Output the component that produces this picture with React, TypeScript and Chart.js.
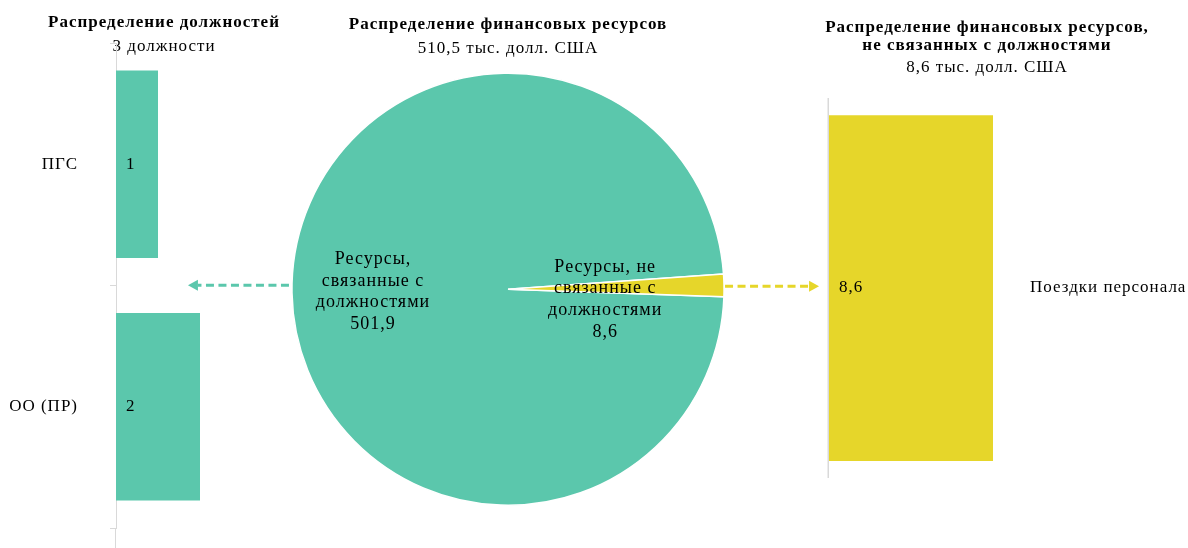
import React, { useEffect, useRef } from "react";
import { Chart, registerables } from "chart.js";

Chart.register(...registerables);

// ---------- data ----------
const positionCategories = ["ПГС", "ОО (ПР)"];
const positionCounts = [1, 2];
const positionTitle = "Распределение должностей";
const positionSubtitle = "3 должности";

const resourceCategories = [
  "Ресурсы, связанные с должностями",
  "Ресурсы, не связанные с должностями",
];
const resourceLabelLines = [
  ["Ресурсы,", "связанные с", "должностями"],
  ["Ресурсы, не", "связанные с", "должностями"],
];
const resourceValues = [501.9, 8.6];
const resourceTitle = "Распределение финансовых ресурсов";
const resourceSubtitle = "510,5 тыс. долл. США";

const nonPostCategories = ["Поездки персонала"];
const nonPostValues = [8.6];
const nonPostTitle = ["Распределение финансовых ресурсов,", "не связанных с должностями"];
const nonPostSubtitle = "8,6 тыс. долл. США";

// ---------- styles ----------
const GREEN = "rgb(91,199,172)";
const YELLOW = "rgb(230,214,42)";
const AXIS = "#d9d9d9";
const FONT = "'Liberation Serif', 'Times New Roman', serif";
const LETTER_SPACING = "1px";

const fmt1 = (v: number) => v.toFixed(1).replace(".", ",");

const spacingPlugin = {
  id: "letterSpacing",
  beforeUpdate(chart: any) {
    chart.ctx.letterSpacing = LETTER_SPACING;
  },
  beforeLayout(chart: any) {
    chart.ctx.letterSpacing = LETTER_SPACING;
  },
  beforeDraw(chart: any) {
    chart.ctx.letterSpacing = LETTER_SPACING;
  },
};

function barLabelPlugin(format: (v: number) => string) {
  return {
    id: "barLabels",
    afterDatasetsDraw(chart: any) {
      const ctx = chart.ctx;
      const meta = chart.getDatasetMeta(0);
      const base = chart.scales.x.getPixelForValue(0);
      ctx.save();
      ctx.fillStyle = "#000";
      ctx.font = `17px ${FONT}`;
      ctx.textAlign = "left";
      ctx.textBaseline = "middle";
      meta.data.forEach((el: any, i: number) => {
        const v = chart.data.datasets[0].data[i] as number;
        ctx.fillText(format(v), base + 10, el.y);
      });
      ctx.restore();
    },
  };
}

const extendAxisPlugin = {
  id: "extendAxis",
  afterDraw(chart: any) {
    const ctx = chart.ctx;
    const x = chart.chartArea.left;
    ctx.save();
    ctx.strokeStyle = AXIS;
    ctx.lineWidth = 1;
    ctx.beginPath();
    ctx.moveTo(x - 0.5, chart.chartArea.bottom);
    ctx.lineTo(x - 0.5, chart.height);
    ctx.stroke();
    ctx.restore();
  },
};

const zeroLinePlugin = {
  id: "zeroLine",
  beforeDatasetsDraw(chart: any) {
    const ctx = chart.ctx;
    const x = chart.scales.x.getPixelForValue(0);
    ctx.save();
    ctx.strokeStyle = AXIS;
    ctx.lineWidth = 1.5;
    ctx.beginPath();
    ctx.moveTo(x - 0.75, chart.chartArea.top);
    ctx.lineTo(x - 0.75, chart.chartArea.bottom);
    ctx.stroke();
    ctx.restore();
  },
};

// pie label anchor: radial fraction and vertical shift
const pieLabelAnchors = [
  { r: 0.625, dy: 0 },
  { r: 0.45, dy: 12 },
];

const pieLabelPlugin = {
  id: "pieLabels",
  afterDatasetsDraw(chart: any) {
    const ctx = chart.ctx;
    const meta = chart.getDatasetMeta(0);
    ctx.save();
    ctx.fillStyle = "#000";
    ctx.font = `18px ${FONT}`;
    ctx.textAlign = "center";
    ctx.textBaseline = "middle";
    const lh = 21.7;
    meta.data.forEach((arc: any, i: number) => {
      const { x, y, startAngle, endAngle, outerRadius } = arc.getProps(
        ["x", "y", "startAngle", "endAngle", "outerRadius"],
        true
      );
      const mid = (startAngle + endAngle) / 2;
      const a = pieLabelAnchors[i];
      const cx = x + Math.cos(mid) * outerRadius * a.r;
      const cy = y + Math.sin(mid) * outerRadius * a.r + a.dy;
      const lines = [...resourceLabelLines[i], fmt1(chart.data.datasets[0].data[i])];
      const top = cy - ((lines.length - 1) * lh) / 2;
      lines.forEach((ln, k) => ctx.fillText(ln, cx, top + k * lh));
    });
    ctx.restore();
  },
};

function drawArrow(ctx: CanvasRenderingContext2D, x0: number, x1: number, y: number, color: string) {
  const dir = Math.sign(x1 - x0);
  const head = 10;
  ctx.save();
  ctx.strokeStyle = color;
  ctx.fillStyle = color;
  ctx.lineWidth = 3;
  ctx.setLineDash([8, 4.5]);
  ctx.beginPath();
  ctx.moveTo(x0, y);
  ctx.lineTo(x1 - dir * head, y);
  ctx.stroke();
  ctx.setLineDash([]);
  ctx.beginPath();
  ctx.moveTo(x1, y);
  ctx.lineTo(x1 - dir * head, y - 5.5);
  ctx.lineTo(x1 - dir * head, y + 5.5);
  ctx.closePath();
  ctx.fill();
  ctx.restore();
}

const arrowPlugin = {
  id: "arrows",
  afterDraw(chart: any) {
    const arc = chart.getDatasetMeta(0).data[0] as any;
    const { x, y, outerRadius } = arc.getProps(["x", "y", "outerRadius"], true);
    drawArrow(chart.ctx, x - outerRadius - 3, x - outerRadius - 104, y - 4, GREEN);
    drawArrow(chart.ctx, x + outerRadius + 1, x + outerRadius + 95, y - 3, YELLOW);
  },
};

export default function App() {
  const leftRef = useRef<HTMLCanvasElement>(null);
  const pieRef = useRef<HTMLCanvasElement>(null);
  const rightRef = useRef<HTMLCanvasElement>(null);

  useEffect(() => {
    const titleFont = { family: FONT, size: 17, weight: "bold" as const, lineHeight: 1.06 };
    const subFont = { family: FONT, size: 17, lineHeight: 1.2 };

    const left = new Chart(leftRef.current!, {
      type: "bar",
      data: {
        labels: positionCategories,
        datasets: [
          {
            data: positionCounts,
            backgroundColor: GREEN,
            barPercentage: 0.774,
            categoryPercentage: 1,
          },
        ],
      },
      options: {
        indexAxis: "y",
        animation: false,
        responsive: false,
        devicePixelRatio: 1,
        layout: { padding: { top: 0, right: 0, bottom: 20, left: 0 } },
        scales: {
          x: { display: false, min: 0, max: 212 / 42 },
          y: {
            grid: { display: true, drawOnChartArea: false, tickLength: 6, color: AXIS, offset: true },
            border: { display: true, color: AXIS },
            ticks: { color: "#000", font: { family: FONT, size: 17 }, padding: 32 },
            afterFit: (s: any) => {
              s.width = 116;
              s.paddingTop = 0;
              s.paddingBottom = 0;
            },
          },
        },
        plugins: {
          legend: { display: false },
          tooltip: { enabled: false },
          title: {
            display: true,
            text: positionTitle,
            color: "#000",
            font: titleFont,
            padding: { top: 14, bottom: 4.8 },
          },
          subtitle: {
            display: true,
            text: positionSubtitle,
            color: "#000",
            font: subFont,
            padding: { top: 0, bottom: -14.2 },
          },
        },
      },
      plugins: [spacingPlugin, barLabelPlugin((v) => String(v)), extendAxisPlugin],
    });

    const pie = new Chart(pieRef.current!, {
      type: "pie",
      data: {
        labels: resourceCategories,
        datasets: [
          {
            data: resourceValues,
            backgroundColor: [GREEN, YELLOW],
            borderColor: "#fff",
            borderWidth: 1.5,
          },
        ],
      },
      options: {
        animation: false,
        responsive: false,
        devicePixelRatio: 1,
        rotation: 92,
        layout: { padding: { top: 0, right: 0, bottom: 42, left: 0 } },
        plugins: {
          legend: { display: false },
          tooltip: { enabled: false },
          title: {
            display: true,
            text: resourceTitle,
            color: "#000",
            font: titleFont,
            padding: { top: 16, bottom: 4 },
          },
          subtitle: {
            display: true,
            text: resourceSubtitle,
            color: "#000",
            font: subFont,
            padding: { top: 0, bottom: 14 },
          },
        },
      },
      plugins: [spacingPlugin, pieLabelPlugin, arrowPlugin],
    });

    const right = new Chart(rightRef.current!, {
      type: "bar",
      data: {
        labels: nonPostCategories,
        datasets: [
          {
            data: nonPostValues,
            backgroundColor: YELLOW,
            barPercentage: 0.91,
            categoryPercentage: 1,
          },
        ],
      },
      options: {
        indexAxis: "y",
        animation: false,
        responsive: false,
        devicePixelRatio: 1,
        layout: { padding: { top: 0, right: 0, bottom: 70, left: 0 } },
        scales: {
          x: { display: false, min: 0, max: 8.6 },
          y: {
            position: "right",
            grid: { display: false, drawTicks: false },
            border: { display: false },
            ticks: { color: "#000", font: { family: FONT, size: 17 }, padding: 37 },
            afterFit: (s: any) => {
              s.width = 195;
              s.paddingTop = 0;
              s.paddingBottom = 0;
            },
          },
          yGap: {
            type: "category",
            axis: "y",
            position: "left",
            display: true,
            grid: { display: false, drawTicks: false },
            border: { display: false },
            ticks: { display: false },
            afterFit: (s: any) => {
              s.width = 43;
              s.paddingTop = 0;
              s.paddingBottom = 0;
            },
          },
        },
        plugins: {
          legend: { display: false },
          tooltip: { enabled: false },
          title: {
            display: true,
            text: nonPostTitle,
            color: "#000",
            font: titleFont,
            padding: { top: 19, bottom: 2.3 },
          },
          subtitle: {
            display: true,
            text: nonPostSubtitle,
            color: "#000",
            font: subFont,
            padding: { top: 0, bottom: 20.3 },
          },
        },
      },
      plugins: [spacingPlugin, barLabelPlugin(fmt1), zeroLinePlugin],
    });

    return () => {
      left.destroy();
      pie.destroy();
      right.destroy();
    };
  }, []);

  return (
    <div
      style={{
        position: "fixed",
        left: 0,
        top: 0,
        width: 1188,
        height: 548,
        background: "#fff",
        overflow: "hidden",
      }}
    >
      <canvas
        ref={pieRef}
        width={658}
        height={548}
        style={{ position: "absolute", left: 179, top: 0 }}
      />
      <canvas
        ref={leftRef}
        width={328}
        height={548}
        style={{ position: "absolute", left: 0, top: 0 }}
      />
      <canvas
        ref={rightRef}
        width={402}
        height={548}
        style={{ position: "absolute", left: 786, top: 0 }}
      />
    </div>
  );
}
